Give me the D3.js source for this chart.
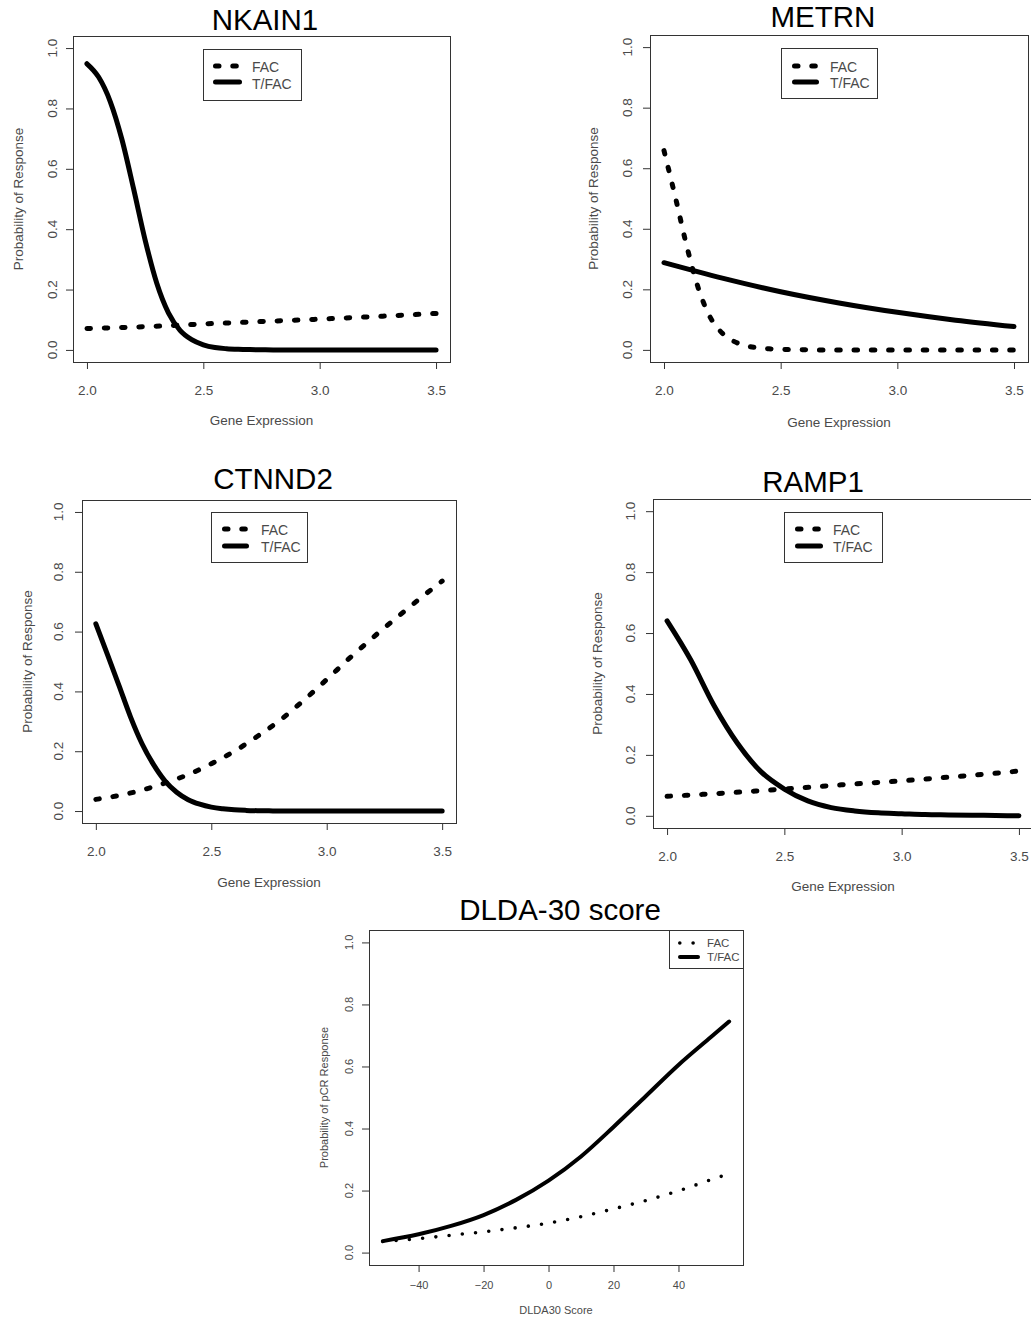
<!DOCTYPE html>
<html>
<head>
<meta charset="utf-8">
<script src="https://cdn.jsdelivr.net/npm/d3@7"></script>
<style>
  body { margin: 0; background: #fff; }
  svg { display: block; font-family: "Liberation Sans", Arial, sans-serif; }
</style>
</head>
<body>
<svg id="chart" width="1031" height="1321"></svg>
<script>
'use strict';

// gene expression grids the curves were read at
var exprFine = [2.00, 2.05, 2.10, 2.15, 2.20, 2.25, 2.30, 2.35, 2.40, 2.45, 2.50,
  2.55, 2.60, 2.65, 2.70, 2.75, 2.80, 2.85, 2.90, 2.95, 3.00,
  3.05, 3.10, 3.15, 3.20, 3.25, 3.30, 3.35, 3.40, 3.45, 3.50];
var exprTenth = [2.0, 2.1, 2.2, 2.3, 2.4, 2.5, 2.6, 2.7, 2.8, 2.9, 3.0, 3.1, 3.2, 3.3, 3.4, 3.5];
var exprQuarter = [2.0, 2.25, 2.5, 2.75, 3.0, 3.25, 3.5];

// NKAIN1
var nkain1Fac = [0.071, 0.077, 0.086, 0.094, 0.102, 0.111, 0.121];
var nkain1Tfac = [0.948, 0.904, 0.823, 0.698, 0.535, 0.364, 0.221, 0.123, 0.065, 0.034, 0.017,
  0.008, 0.004, 0.002, 0.001, 0.0005, 0, 0, 0, 0, 0,
  0, 0, 0, 0, 0, 0, 0, 0, 0, 0];

// METRN
var metrnFac = [0.658, 0.500, 0.335, 0.197, 0.105, 0.055, 0.028, 0.014, 0.007, 0.0035, 0.0017,
  0.0008, 0.0004, 0, 0, 0, 0, 0, 0, 0, 0,
  0, 0, 0, 0, 0, 0, 0, 0, 0, 0];
var metrnTfac = [0.288, 0.237, 0.192, 0.155, 0.124, 0.098, 0.077];

// CTNND2
var ctnnd2Fac = [0.039, 0.052, 0.070, 0.094, 0.122, 0.158, 0.200, 0.250, 0.305, 0.370, 0.440,
  0.512, 0.580, 0.645, 0.708, 0.769];
var ctnnd2Tfac = [0.626, 0.524, 0.420, 0.315, 0.225, 0.155, 0.100, 0.063, 0.038, 0.023, 0.013,
  0.0075, 0.004, 0.0022, 0.0012, 0.0006, 0, 0, 0, 0, 0,
  0, 0, 0, 0, 0, 0, 0, 0, 0, 0];

// RAMP1
var ramp1Fac = [0.064, 0.075, 0.088, 0.102, 0.115, 0.130, 0.147];
var ramp1Tfac = [0.640, 0.513, 0.362, 0.238, 0.145, 0.088, 0.049, 0.027, 0.016, 0.010, 0.007,
  0.004, 0.003, 0.002, 0.001, 0];

// DLDA-30 score
var dldaScore = [-51, -40, -30, -20, -10, 0, 10, 20, 30, 40, 50, 55.6];
var dldaFac = [0.036, 0.045, 0.056, 0.067, 0.080, 0.095, 0.116, 0.141, 0.168, 0.199, 0.235, 0.254];
var dldaTfac = [0.037, 0.059, 0.086, 0.121, 0.170, 0.232, 0.310, 0.405, 0.505, 0.605, 0.695, 0.745];

// ticks and labels
var exprTicks = [2.0, 2.5, 3.0, 3.5];
var scoreTicks = [-40, -20, 0, 20, 40];
var probTicks = [0, 0.2, 0.4, 0.6, 0.8, 1.0];
var legendNames = ['FAC', 'T/FAC'];

var svg = d3.select('#chart');

// line looks, R style lty 2 / 1 / 3
var looks = {
  dash:  { width: 5, dash: '3.5 13.8' },
  solid: { width: 5, dash: null },
  solidThin: { width: 4, dash: null },
  dot:   { width: 3.6, dash: '0 13.3' }
};

var panels = [
  {
    title: 'NKAIN1', titleAt: [265, 30], box: [73, 36, 450, 362],
    xTicks: exprTicks, fmt: d3.format('.1f'), xLabel: 'Gene Expression', yLabel: 'Probability of Response',
    xTickY: 395, xLabelY: 425, yTickX: 52, yLabelX: 18, font: 13.5,
    legend: { box: [203, 49, 301, 100], sx: [213, 242], sy: [66, 82], tx: 252, ty: [72, 89] },
    series: [
      { x: exprQuarter, y: nkain1Fac, look: 'dash' },
      { x: exprFine, y: nkain1Tfac, look: 'solid' }
    ]
  },
  {
    title: 'METRN', titleAt: [823, 27], box: [650, 35, 1028, 362],
    xTicks: exprTicks, fmt: d3.format('.1f'), xLabel: 'Gene Expression', yLabel: 'Probability of Response',
    xTickY: 395, xLabelY: 427, yTickX: 627, yLabelX: 593, font: 13.5,
    legend: { box: [781, 48, 877, 98], sx: [792, 819], sy: [66, 82], tx: 830, ty: [72, 88] },
    series: [
      { x: exprFine, y: metrnFac, look: 'dash' },
      { x: exprQuarter, y: metrnTfac, look: 'solid' }
    ]
  },
  {
    title: 'CTNND2', titleAt: [273, 489], box: [82, 500, 456, 823],
    xTicks: exprTicks, fmt: d3.format('.1f'), xLabel: 'Gene Expression', yLabel: 'Probability of Response',
    xTickY: 856, xLabelY: 887, yTickX: 58, yLabelX: 27, font: 13.5,
    legend: { box: [211, 512, 307, 562], sx: [222, 249], sy: [529, 546], tx: 261, ty: [535, 552] },
    series: [
      { x: exprTenth, y: ctnnd2Fac, look: 'dash' },
      { x: exprFine, y: ctnnd2Tfac, look: 'solid' }
    ]
  },
  {
    title: 'RAMP1', titleAt: [813, 492], box: [653, 499, 1033, 828],
    xTicks: exprTicks, fmt: d3.format('.1f'), xLabel: 'Gene Expression', yLabel: 'Probability of Response',
    xTickY: 861, xLabelY: 891, yTickX: 630, yLabelX: 597, font: 13.5,
    legend: { box: [784, 512, 882, 562], sx: [795, 823], sy: [529, 546], tx: 833, ty: [535, 552] },
    series: [
      { x: exprQuarter, y: ramp1Fac, look: 'dash' },
      { x: exprTenth, y: ramp1Tfac, look: 'solid' }
    ]
  },
  {
    title: 'DLDA-30 score', titleAt: [560, 920], box: [369, 930, 743, 1265],
    xTicks: scoreTicks, fmt: d3.format('d'), xLabel: 'DLDA30 Score', yLabel: 'Probability of pCR Response',
    xTickY: 1289, xLabelY: 1314, yTickX: 349, yLabelX: 324, font: 11,
    legend: { box: [669, 930, 743, 968], sx: [678, 700], sy: [943, 957], tx: 707, ty: [947, 961] },
    series: [
      { x: dldaScore, y: dldaFac, look: 'dot' },
      { x: dldaScore, y: dldaTfac, look: 'solidThin' }
    ]
  }
];

var tickLen = 7;
var inkBox = '#333';
var inkText = '#4a4a4a';

function drawPanel(p) {
  var g = svg.append('g').attr('class', 'panel');
  var b = p.box;

  // R pads the data range by 4% on each side
  var allX = [].concat.apply([], p.series.map(function (s) { return s.x; }));
  var ext = d3.extent(allX);
  var pad = (ext[1] - ext[0]) * 0.04;
  var x = d3.scaleLinear().domain([ext[0] - pad, ext[1] + pad]).range([b[0], b[2]]);
  var y = d3.scaleLinear().domain([-0.04, 1.04]).range([b[3], b[1]]);

  // title
  g.append('text')
    .attr('x', p.titleAt[0]).attr('y', p.titleAt[1])
    .attr('text-anchor', 'middle')
    .style('font-size', '29.5px')
    .style('fill', '#000')
    .text(p.title);

  // x axis ticks
  var fs = p.font;
  var xAxis = d3.axisBottom(x).tickValues(p.xTicks).tickSize(tickLen).tickSizeOuter(0)
    .tickPadding((p.xTickY - b[3]) - tickLen - 0.71 * fs)
    .tickFormat(p.fmt);
  var gx = g.append('g').attr('transform', 'translate(0,' + b[3] + ')').call(xAxis);
  gx.select('.domain').remove();
  gx.selectAll('line').attr('stroke', inkBox);
  gx.selectAll('text').style('font-size', fs + 'px').style('fill', inkText)
    .style('font-family', '"Liberation Sans", Arial, sans-serif');

  // y axis ticks, labels turned like R's las = 0
  var yAxis = d3.axisLeft(y).tickValues(probTicks).tickSize(tickLen).tickSizeOuter(0).tickFormat('');
  var gy = g.append('g').attr('transform', 'translate(' + b[0] + ',0)').call(yAxis);
  gy.select('.domain').remove();
  gy.selectAll('line').attr('stroke', inkBox);

  g.selectAll('text.ytick')
    .data(probTicks)
    .join('text')
    .attr('class', 'ytick')
    .attr('transform', function (d) { return 'translate(' + p.yTickX + ',' + y(d) + ') rotate(-90)'; })
    .attr('dy', '0.35em')
    .attr('text-anchor', 'middle')
    .style('font-size', fs + 'px')
    .style('fill', inkText)
    .text(d3.format('.1f'));

  // axis titles
  g.append('text')
    .attr('x', (b[0] + b[2]) / 2).attr('y', p.xLabelY)
    .attr('text-anchor', 'middle')
    .style('font-size', fs + 'px').style('fill', inkText)
    .text(p.xLabel);

  g.append('text')
    .attr('transform', 'translate(' + p.yLabelX + ',' + (b[1] + b[3]) / 2 + ') rotate(-90)')
    .attr('dy', '0.35em')
    .attr('text-anchor', 'middle')
    .style('font-size', fs + 'px').style('fill', inkText)
    .text(p.yLabel);

  // curves
  var line = d3.line().curve(d3.curveMonotoneX);
  p.series.forEach(function (s) {
    var lk = looks[s.look];
    var pts = s.x.map(function (v, i) { return [x(v), y(s.y[i])]; });
    g.append('path')
      .attr('d', line(pts))
      .attr('fill', 'none')
      .attr('stroke', '#000')
      .attr('stroke-width', lk.width)
      .attr('stroke-linecap', 'round')
      .attr('stroke-linejoin', 'round')
      .attr('stroke-dasharray', lk.dash);
  });

  // plot frame
  g.append('rect')
    .attr('x', b[0] + 0.5).attr('y', b[1] + 0.5)
    .attr('width', b[2] - b[0]).attr('height', b[3] - b[1])
    .attr('fill', 'none').attr('stroke', inkBox).attr('stroke-width', 1);

  // legend
  var lg = p.legend;
  g.append('rect')
    .attr('x', lg.box[0] + 0.5).attr('y', lg.box[1] + 0.5)
    .attr('width', lg.box[2] - lg.box[0]).attr('height', lg.box[3] - lg.box[1])
    .attr('fill', '#fff').attr('stroke', inkBox).attr('stroke-width', 1);

  p.series.forEach(function (s, i) {
    var lk = looks[s.look];
    var sx0 = lk.width / 2;
    g.append('line')
      .attr('x1', lg.sx[0] + sx0).attr('x2', lg.sx[1] - sx0)
      .attr('y1', lg.sy[i]).attr('y2', lg.sy[i])
      .attr('stroke', '#000')
      .attr('stroke-width', lk.width)
      .attr('stroke-linecap', 'round')
      .attr('stroke-dasharray', lk.dash);
    g.append('text')
      .attr('x', lg.tx).attr('y', lg.ty[i])
      .style('font-size', (fs + 0.5) + 'px').style('fill', inkText)
      .text(legendNames[i]);
  });
}

panels.forEach(drawPanel);
</script>
</body>
</html>
